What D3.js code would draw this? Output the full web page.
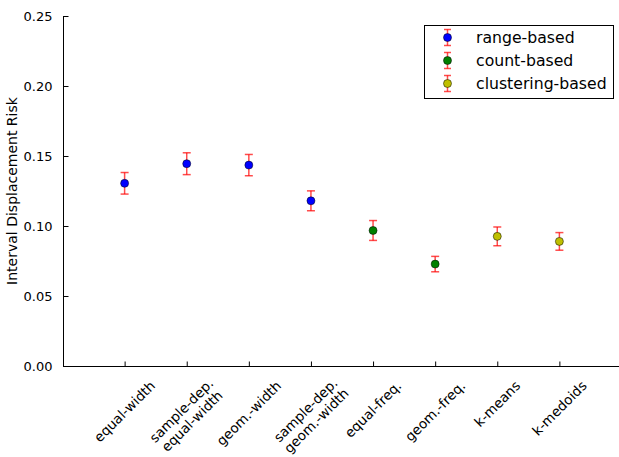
<!DOCTYPE html>
<html>
<head>
<meta charset="utf-8">
<script src="https://cdn.jsdelivr.net/npm/d3@7"></script>
<style>
  body { margin: 0; background: #fff; }
  svg { display: block; font-family: "DejaVu Sans", sans-serif; }
</style>
</head>
<body>
<div class="graph"></div>
<script>
// methods along the x axis ("\n" = line break in the tick label)
const methods = ["equal-width", "sample-dep.\nequal-width", "geom.-width", "sample-dep.\ngeom.-width",
                 "equal-freq.", "geom.-freq.", "k-means", "k-medoids"];
const risk = [0.1305, 0.1445, 0.1435, 0.1180, 0.0968, 0.0728, 0.0926, 0.0890];
const riskErr = [0.0077, 0.0078, 0.0076, 0.0071, 0.0071, 0.0055, 0.0067, 0.0063];
const groupOf = ["range-based", "range-based", "range-based", "range-based",
                 "count-based", "count-based", "clustering-based", "clustering-based"];
const groups = ["range-based", "count-based", "clustering-based"];
const groupColors = ["#0000ff", "#008000", "#bfbf00"];
const yTicks = [0, 0.05, 0.10, 0.15, 0.20, 0.25];

const width = 619, height = 457;

let svg = d3.select(".graph").append("svg")
    .attr("width", width)
    .attr("height", height);

let x = d3.scaleLinear().domain([0, 9]).range([62.5, 621.5]);
let y = d3.scaleLinear().domain([0, 0.25]).range([366, 16]);
let color = d3.scaleOrdinal().domain(groups).range(groupColors);

// left spine + bottom spine
svg.append("line")
    .attr("x1", 63.5).attr("x2", 63.5)
    .attr("y1", y(0.25)).attr("y2", y(0) + 0.5)
    .attr("stroke", "#000").attr("stroke-width", 1);
svg.append("line")
    .attr("x1", 63).attr("x2", width)
    .attr("y1", 366.5).attr("y2", 366.5)
    .attr("stroke", "#000").attr("stroke-width", 1);

// y axis, ticks pointing inward
let yAxis = d3.axisLeft(y).tickValues(yTicks).tickFormat(d3.format(".2f"))
    .tickSizeInner(-5).tickSizeOuter(0).tickPadding(11);
let gy = svg.append("g").attr("transform", "translate(63.5,0)").call(yAxis);
gy.select(".domain").remove();
gy.selectAll("text").attr("font-size", 13).attr("fill", "#000")
    .attr("font-family", "DejaVu Sans");

// x ticks, inward
let xAxis = d3.axisBottom(x).tickValues(d3.range(1, 9)).tickFormat("")
    .tickSizeInner(-5).tickSizeOuter(0);
let gx = svg.append("g").attr("transform", "translate(0,366.5)").call(xAxis);
gx.select(".domain").remove();

// rotated x tick labels, centred on the tick
const fs = 13.5, lh = 15;
let labels = svg.append("g").selectAll("g")
    .data(methods)
    .enter().append("g");
labels.each(function(d, i) {
    let lines = d.split("\n");
    let g = d3.select(this);
    let t = g.append("text")
        .attr("text-anchor", "middle")
        .attr("font-size", fs)
        .attr("fill", "#000");
    t.selectAll("tspan")
        .data(lines)
        .enter().append("tspan")
        .attr("x", 0)
        .attr("y", (l, j) => (j - (lines.length - 1) / 2) * lh + fs * 0.35)
        .text(String);
    let w = d3.max(t.selectAll("tspan").nodes(), n => n.getComputedTextLength());
    let h = lines.length * lh;
    let half = (w * Math.SQRT1_2 + h * Math.SQRT1_2) / 2;
    // keep the two-line labels inside the picture
    let cy = Math.min(378 + half, height - half - 1);
    g.attr("transform", "translate(" + x(i + 1) + "," + cy + ") rotate(-45)");
});

// y label
svg.append("text")
    .attr("transform", "translate(17," + y(0.125) + ") rotate(-90)")
    .attr("text-anchor", "middle")
    .attr("font-size", 14)
    .text("Interval Displacement Risk");

let pts = risk.map((v, i) => ({ x: i + 1, v: v, e: riskErr[i], g: groupOf[i] }));

// error bars
let errColor = "#ff0000", errOpacity = 0.7;
let eb = svg.append("g").selectAll("g").data(pts).enter().append("g")
    .attr("stroke", errColor).attr("stroke-opacity", errOpacity).attr("stroke-width", 1.5);
eb.append("line")
    .attr("x1", d => x(d.x)).attr("x2", d => x(d.x))
    .attr("y1", d => y(d.v - d.e)).attr("y2", d => y(d.v + d.e));
eb.append("line")
    .attr("x1", d => x(d.x) - 4).attr("x2", d => x(d.x) + 4)
    .attr("y1", d => y(d.v - d.e)).attr("y2", d => y(d.v - d.e));
eb.append("line")
    .attr("x1", d => x(d.x) - 4).attr("x2", d => x(d.x) + 4)
    .attr("y1", d => y(d.v + d.e)).attr("y2", d => y(d.v + d.e));

// markers
svg.append("g").selectAll("circle").data(pts).enter().append("circle")
    .attr("cx", d => x(d.x)).attr("cy", d => y(d.v))
    .attr("r", 4)
    .attr("fill", d => color(d.g))
    .attr("stroke", "#000").attr("stroke-width", 0.5);

// legend
let lg = svg.append("g");
lg.append("rect")
    .attr("x", 424.5).attr("y", 25.5).attr("width", 189).attr("height", 73)
    .attr("fill", "#fff").attr("stroke", "#000").attr("stroke-width", 1);
groups.forEach(function(gname, i) {
    let cy = 37.5 + i * 23;
    let row = lg.append("g");
    let r = row.append("g").attr("stroke", errColor).attr("stroke-opacity", errOpacity).attr("stroke-width", 1.5);
    r.append("line").attr("x1", 447.5).attr("x2", 447.5).attr("y1", cy - 8).attr("y2", cy + 8);
    r.append("line").attr("x1", 444).attr("x2", 451).attr("y1", cy - 8).attr("y2", cy - 8);
    r.append("line").attr("x1", 444).attr("x2", 451).attr("y1", cy + 8).attr("y2", cy + 8);
    row.append("circle").attr("cx", 447.5).attr("cy", cy).attr("r", 4)
        .attr("fill", color(gname)).attr("stroke", "#000").attr("stroke-width", 0.5);
    row.append("text").attr("x", 476).attr("y", cy + 5.5)
        .attr("font-size", 15.7).text(gname);
});
</script>
</body>
</html>
